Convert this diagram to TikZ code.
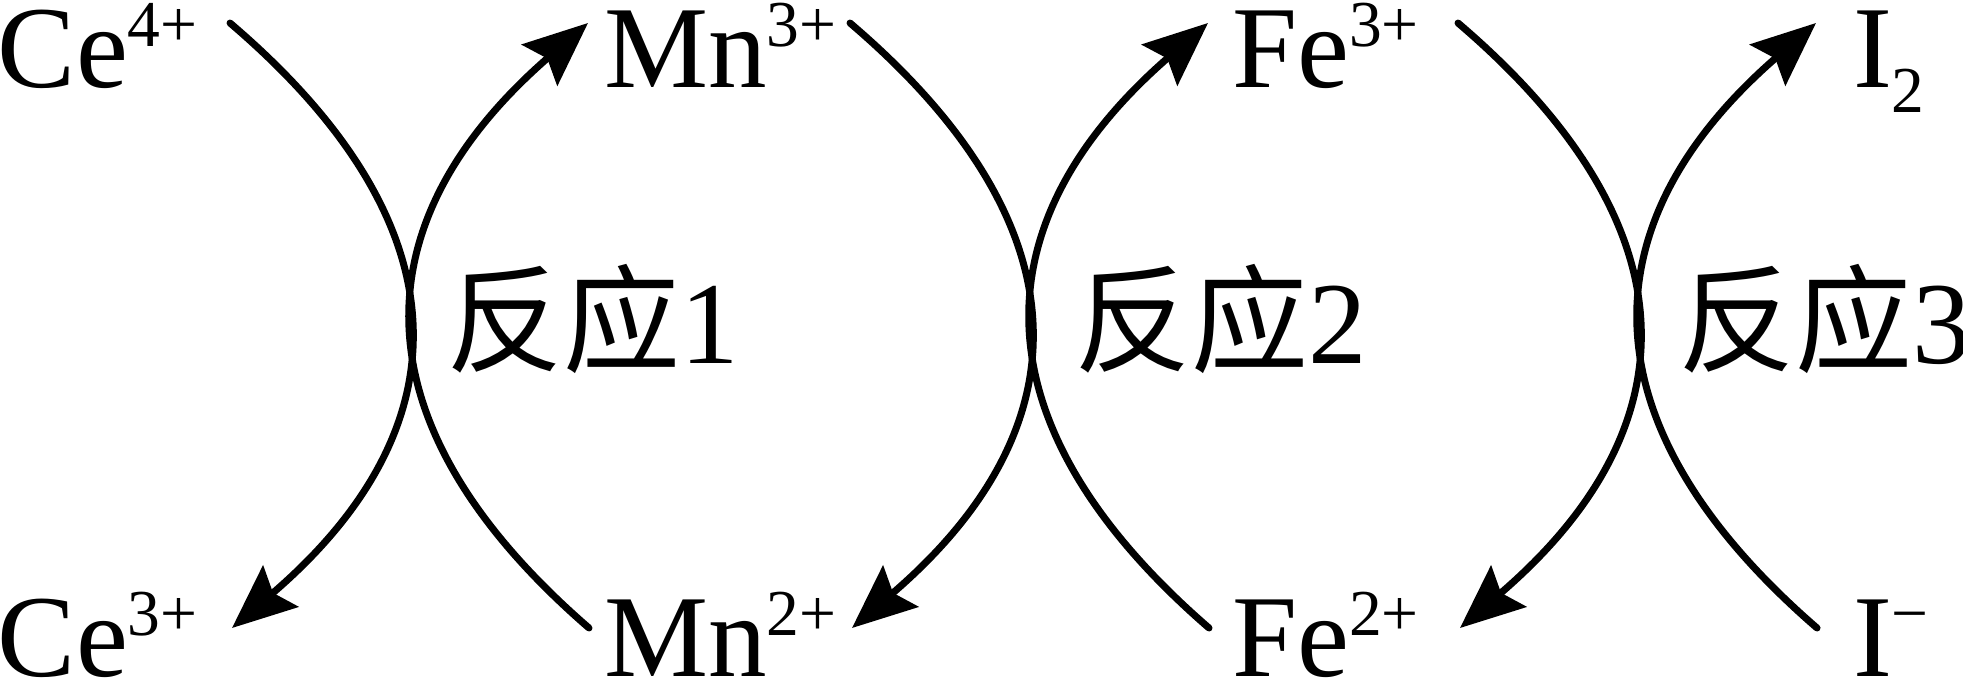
\documentclass[tikz,border=0pt]{standalone}
\usepackage{fontspec}
\usepackage{graphicx}
\newfontfamily\tnr{Liberation Serif}
\newfontfamily\zhfont{Noto Sans CJK SC}
\usetikzlibrary{arrows.meta}
\newcommand\supsx[1]{\raisebox{41pt}{\scalebox{0.56}{#1}}}
\newcommand\subsx[1]{\raisebox{-25pt}{\scalebox{0.56}{#1}}}
\begin{document}
\begin{tikzpicture}[x=1pt,y=-1pt,
  lab/.style={font=\tnr\fontsize{117}{117}\selectfont, anchor=base west, inner sep=0pt, outer sep=0pt, text height=80pt, text depth=0pt},
  arc/.style={line width=7pt, line cap=round},
  arcarrow/.style={arc, -{Stealth[length=64pt 0, width=54pt 0, inset=10pt]}}]
\useasboundingbox (0,0) rectangle (1963,680);
% top row
\node[lab] (ce4) at (-2,87) {Ce\supsx{4+}};
\node[lab] (mn3) at (604,87) {Mn\supsx{3+}};
\node[lab] (fe3) at (1232,87) {Fe\supsx{3+}};
\node[lab] (i2)  at (1853,87) {I\subsx{2}};
% bottom row
\node[lab] (ce3) at (-2,676) {Ce\supsx{3+}};
\node[lab] (mn2) at (604,676) {Mn\supsx{2+}};
\node[lab] (fe2) at (1232,676) {Fe\supsx{2+}};
\node[lab] (im)  at (1853,676) {I\supsx{−}};
% reaction labels
\node[lab] (r1) at (446,363) {{\zhfont 反应}1};
\node[lab] (r2) at (1074,363) {{\zhfont 反应}2};
\node[lab] (r3) at (1678,363) {{\zhfont 反应}3};
% arcs
\foreach \s/\k in {230/1,850/2,1458/3}{
  \coordinate (Ls\k) at (\s,23);
  \coordinate (Le\k) at (\s+2,628);
  \coordinate (Rs\k) at (\s+359,628);
  \coordinate (Re\k) at (\s+358,23);
  \draw[arcarrow] (Ls\k) .. controls (\s+236.7,224.7) and (\s+237.3,426.3) .. (Le\k);
  \draw[arcarrow] (Rs\k) .. controls (\s+126,426.3) and (\s+125.7,224.7) .. (Re\k);
}
\end{tikzpicture}
\end{document}
